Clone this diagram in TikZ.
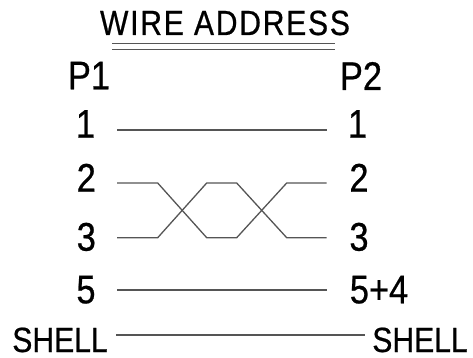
\documentclass[tikz,border=0pt]{standalone}
\usepackage{fontspec}
\setmainfont{Liberation Sans}[FakeStretch=0.86,FakeBold=0.6]
\definecolor{wire}{HTML}{555555}
\tikzset{
  lbl/.style={inner sep=0pt, anchor=base, font=\fontsize{40}{40}\selectfont},
  shl/.style={inner sep=0pt, anchor=base, font=\fontsize{35}{35}\selectfont},
  ttl/.style={inner sep=0pt, anchor=base, font=\fontsize{35}{35}\selectfont\addfontfeature{LetterSpace=5}},
  wireline/.style={draw=wire, line width=1.3pt},
  uline/.style={draw=wire, line width=1.5pt}
}
\begin{document}
\begin{tikzpicture}[x=1pt,y=-1pt]
\useasboundingbox (0,0) rectangle (473,358);
% title
\node[ttl] (title) at (225,35) {WIRE ADDRESS};
\coordinate (u1a) at (112,43.3); \coordinate (u1b) at (335,43.3);
\coordinate (u2a) at (112,49.3); \coordinate (u2b) at (335,49.3);
\draw[uline] (u1a) -- (u1b);
\draw[uline] (u2a) -- (u2b);
% headers
\node[lbl] (p1) at (89,89.3) {P1};
\node[lbl] (p2) at (361,90) {P2};
% left labels
\node[lbl] (a1) at (85.5,137.7) {1};
\node[lbl] (a2) at (86.3,191.7) {2};
\node[lbl] (a3) at (86.3,250.7) {3};
\node[lbl] (a5) at (86,303.3) {5};
\node[shl] (as) at (60,352) {SHELL};
% right labels
\node[lbl] (b1) at (357.5,137.7) {1};
\node[lbl] (b2) at (359,191.7) {2};
\node[lbl] (b3) at (359,250.7) {3};
\node[lbl] (b5) at (379,303.3) {5+4};
\node[shl] (bs) at (420,352) {SHELL};
% wire end points
\coordinate (w1l) at (117,130);   \coordinate (w1r) at (326.7,130);
\coordinate (w2l) at (117,183);   \coordinate (w2r) at (326.7,183);
\coordinate (w3l) at (117,237.7); \coordinate (w3r) at (326.7,237.7);
\coordinate (w5l) at (117,290);   \coordinate (w5r) at (326.7,290);
\coordinate (wsl) at (116,335);   \coordinate (wsr) at (365,335);
% wires
\draw[wireline] (w1l) -- (w1r);
\draw[wireline] (w2l) -- (157.7,183) -- (206.7,237.7) -- (236.7,237.7) -- (286.7,183) -- (w2r);
\draw[wireline] (w3l) -- (157.7,237.7) -- (206.7,183) -- (236.7,183) -- (286.7,237.7) -- (w3r);
\draw[wireline] (w5l) -- (w5r);
\draw[wireline] (wsl) -- (wsr);
\end{tikzpicture}
\end{document}
